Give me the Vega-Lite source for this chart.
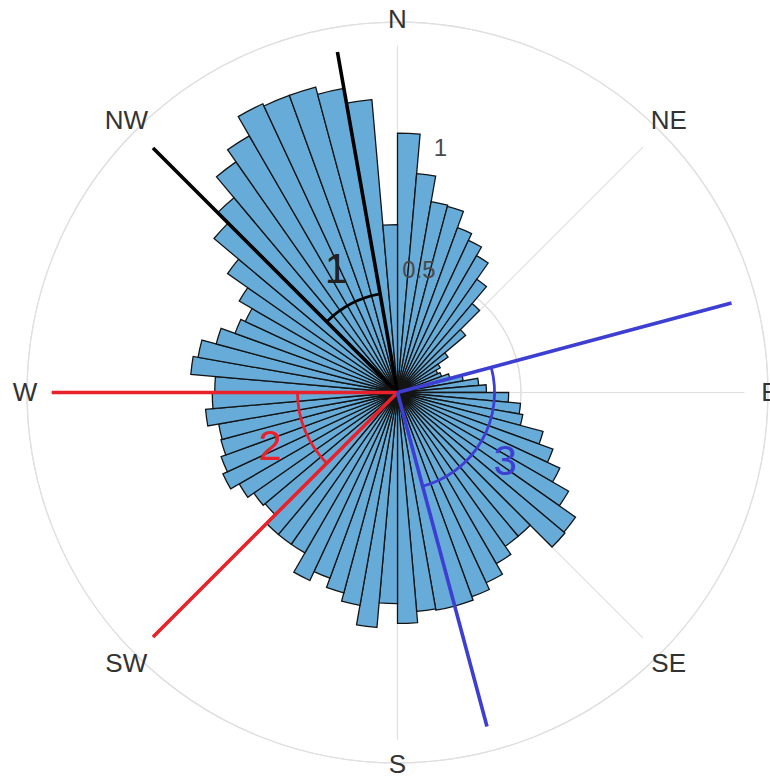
{
  "$schema": "https://vega.github.io/schema/vega-lite/v6.json",
  "width": 700,
  "height": 700,
  "autosize": {"type": "none"},
  "padding": {"left": 47.5, "top": 42.5, "right": 22.5, "bottom": 37.5},
  "background": "white",
  "config": {"view": {"stroke": null}, "font": "Liberation Sans"},
  "datasets": {
    "bins": [
      {"lo": 0, "hi": 5, "v": 1.05}, {"lo": 5, "hi": 10, "v": 0.89}, {"lo": 10, "hi": 15, "v": 0.785}, {"lo": 15, "hi": 20, "v": 0.78},
      {"lo": 20, "hi": 25, "v": 0.71}, {"lo": 25, "hi": 30, "v": 0.68}, {"lo": 30, "hi": 35, "v": 0.64}, {"lo": 35, "hi": 40, "v": 0.56},
      {"lo": 40, "hi": 45, "v": 0.47}, {"lo": 45, "hi": 50, "v": 0.36}, {"lo": 50, "hi": 55, "v": 0.25}, {"lo": 55, "hi": 60, "v": 0.2},
      {"lo": 60, "hi": 65, "v": 0.18}, {"lo": 65, "hi": 70, "v": 0.19}, {"lo": 70, "hi": 75, "v": 0.22}, {"lo": 75, "hi": 80, "v": 0.27},
      {"lo": 80, "hi": 85, "v": 0.33}, {"lo": 85, "hi": 90, "v": 0.36}, {"lo": 90, "hi": 95, "v": 0.45}, {"lo": 95, "hi": 100, "v": 0.5},
      {"lo": 100, "hi": 105, "v": 0.515}, {"lo": 105, "hi": 110, "v": 0.61}, {"lo": 110, "hi": 115, "v": 0.67}, {"lo": 115, "hi": 120, "v": 0.725},
      {"lo": 120, "hi": 125, "v": 0.8}, {"lo": 125, "hi": 130, "v": 0.88}, {"lo": 130, "hi": 135, "v": 0.885}, {"lo": 135, "hi": 140, "v": 0.76},
      {"lo": 140, "hi": 145, "v": 0.76}, {"lo": 145, "hi": 150, "v": 0.8}, {"lo": 150, "hi": 155, "v": 0.85}, {"lo": 155, "hi": 160, "v": 0.88},
      {"lo": 160, "hi": 165, "v": 0.895}, {"lo": 165, "hi": 170, "v": 0.895}, {"lo": 170, "hi": 175, "v": 0.89}, {"lo": 175, "hi": 180, "v": 0.935},
      {"lo": 180, "hi": 185, "v": 0.855}, {"lo": 185, "hi": 190, "v": 0.955}, {"lo": 190, "hi": 195, "v": 0.875}, {"lo": 195, "hi": 200, "v": 0.84},
      {"lo": 200, "hi": 205, "v": 0.8}, {"lo": 205, "hi": 210, "v": 0.84}, {"lo": 210, "hi": 215, "v": 0.75}, {"lo": 215, "hi": 220, "v": 0.75},
      {"lo": 220, "hi": 225, "v": 0.75}, {"lo": 225, "hi": 230, "v": 0.7}, {"lo": 230, "hi": 235, "v": 0.71}, {"lo": 235, "hi": 240, "v": 0.74},
      {"lo": 240, "hi": 245, "v": 0.78}, {"lo": 245, "hi": 250, "v": 0.76}, {"lo": 250, "hi": 255, "v": 0.74}, {"lo": 255, "hi": 260, "v": 0.735},
      {"lo": 260, "hi": 265, "v": 0.78}, {"lo": 265, "hi": 270, "v": 0.75}, {"lo": 270, "hi": 275, "v": 0.74}, {"lo": 275, "hi": 280, "v": 0.84},
      {"lo": 280, "hi": 285, "v": 0.82}, {"lo": 285, "hi": 290, "v": 0.76}, {"lo": 290, "hi": 295, "v": 0.7}, {"lo": 295, "hi": 300, "v": 0.68},
      {"lo": 300, "hi": 305, "v": 0.74}, {"lo": 305, "hi": 310, "v": 0.84}, {"lo": 310, "hi": 315, "v": 0.97}, {"lo": 315, "hi": 320, "v": 1.03},
      {"lo": 320, "hi": 325, "v": 1.14}, {"lo": 325, "hi": 330, "v": 1.2}, {"lo": 330, "hi": 335, "v": 1.29}, {"lo": 335, "hi": 340, "v": 1.28},
      {"lo": 340, "hi": 345, "v": 1.28}, {"lo": 345, "hi": 350, "v": 1.25}, {"lo": 350, "hi": 355, "v": 1.19}, {"lo": 355, "hi": 360, "v": 0.68}
    ],
    "rings": [{"r": 0.5}, {"r": 1}, {"r": 1.405}],
    "spokes": [{"a": 0}, {"a": 45}, {"a": 90}, {"a": 135}, {"a": 180}, {"a": 225}, {"a": 270}, {"a": 315}],
    "cardinal": [{"a": 0, "t": "N"}, {"a": 90, "t": "E"}, {"a": 180, "t": "S"}, {"a": 270, "t": "W"}],
    "intercardinal": [{"a": 45, "t": "NE"}, {"a": 135, "t": "SE"}, {"a": 225, "t": "SW"}, {"a": 315, "t": "NW"}],
    "ticks": [{"r": 0.5, "t": "0.5"}, {"r": 1, "t": "1"}],
    "sectorEdges": [
      {"a": 350, "g": "1"}, {"a": 315, "g": "1"},
      {"a": 270, "g": "2"}, {"a": 225, "g": "2"},
      {"a": 75, "g": "3"}, {"a": 165, "g": "3"}
    ],
    "sectorArcs": [
      {"lo": 315, "hi": 350, "r": 0.405, "g": "1"},
      {"lo": 225, "hi": 270, "r": 0.405, "g": "2"},
      {"lo": 75, "hi": 165, "r": 0.393, "g": "3"}
    ],
    "sectorLabels": [
      {"a": 333.5, "r": 0.555, "g": "1"},
      {"a": 247, "r": 0.56, "g": "2"},
      {"a": 123, "r": 0.52, "g": "3"}
    ]
  },
  "layer": [
    {
      "data": {"name": "rings"},
      "mark": {"type": "arc", "filled": false, "stroke": "#e0e0e0", "strokeWidth": 1.2},
      "encoding": {
        "theta": {"datum": 0, "type": "quantitative", "stack": null, "scale": {"domain": [0, 360], "range": [0, 6.283185307179586], "nice": false, "zero": false}},
        "theta2": {"datum": 360},
        "radius": {"field": "r", "type": "quantitative", "scale": {"type": "linear", "domain": [0, 1.405], "range": [0, 347], "nice": false, "zero": true}}
      }
    },
    {
      "data": {"name": "spokes"},
      "mark": {"type": "arc", "filled": false, "stroke": "#e0e0e0", "strokeWidth": 1.2},
      "encoding": {
        "theta": {"field": "a", "type": "quantitative", "stack": null},
        "theta2": {"field": "a"},
        "radius": {"datum": 1.405, "type": "quantitative"},
        "radius2": {"datum": 0}
      }
    },
    {
      "data": {"name": "bins"},
      "mark": {"type": "arc", "fill": "#5ea7d7", "fillOpacity": 0.94, "stroke": "#141414", "strokeWidth": 1.3},
      "encoding": {
        "theta": {"field": "lo", "type": "quantitative", "stack": null},
        "theta2": {"field": "hi"},
        "radius": {"field": "v", "type": "quantitative"}
      }
    },
    {
      "data": {"name": "ticks"},
      "mark": {"type": "text", "fontSize": 24, "color": "#4a4a4a", "align": "center", "baseline": "middle"},
      "encoding": {
        "theta": {"datum": 10, "type": "quantitative", "stack": null},
        "radius": {"field": "r", "type": "quantitative"},
        "text": {"field": "t"}
      }
    },
    {
      "data": {"name": "cardinal"},
      "mark": {"type": "text", "fontSize": 26, "color": "#333333", "align": "center", "baseline": "middle"},
      "encoding": {
        "theta": {"field": "a", "type": "quantitative", "stack": null},
        "radius": {"datum": 1.508, "type": "quantitative"},
        "text": {"field": "t"}
      }
    },
    {
      "data": {"name": "intercardinal"},
      "mark": {"type": "text", "fontSize": 26, "color": "#333333", "align": "center", "baseline": "middle"},
      "encoding": {
        "theta": {"field": "a", "type": "quantitative", "stack": null},
        "radius": {"datum": 1.553, "type": "quantitative"},
        "text": {"field": "t"}
      }
    },
    {
      "data": {"name": "sectorEdges"},
      "mark": {"type": "arc", "filled": false, "strokeWidth": 3.6, "strokeCap": "butt"},
      "encoding": {
        "theta": {"field": "a", "type": "quantitative", "stack": null},
        "theta2": {"field": "a"},
        "radius": {"datum": 1.4, "type": "quantitative"},
        "radius2": {"datum": 0},
        "stroke": {"field": "g", "type": "nominal", "legend": null, "scale": {"domain": ["1", "2", "3"], "range": ["#000000", "#e8212a", "#3d3fd2"]}}
      }
    },
    {
      "data": {"name": "sectorArcs"},
      "mark": {"type": "arc", "filled": false, "strokeWidth": 2.8},
      "encoding": {
        "theta": {"field": "lo", "type": "quantitative", "stack": null},
        "theta2": {"field": "hi"},
        "radius": {"field": "r", "type": "quantitative"},
        "radius2": {"field": "r"},
        "stroke": {"field": "g", "type": "nominal", "legend": null}
      }
    },
    {
      "data": {"name": "sectorLabels"},
      "mark": {"type": "text", "fontSize": 42, "align": "center", "baseline": "middle"},
      "encoding": {
        "theta": {"field": "a", "type": "quantitative", "stack": null},
        "radius": {"field": "r", "type": "quantitative"},
        "text": {"field": "g"},
        "color": {"field": "g", "type": "nominal", "legend": null, "scale": {"domain": ["1", "2", "3"], "range": ["#222222", "#e8212a", "#3d3fd2"]}}
      }
    }
  ]
}
